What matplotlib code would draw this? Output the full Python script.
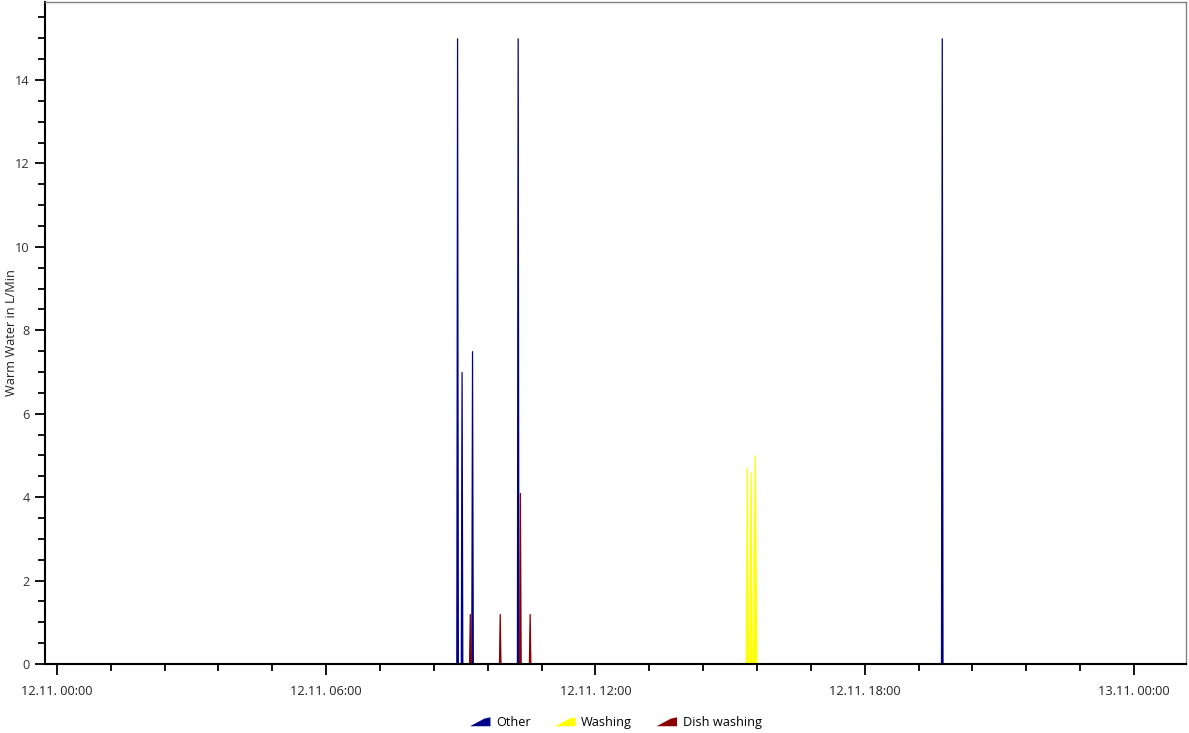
import numpy as np
import pandas as pd
import matplotlib.pyplot as plt
import matplotlib.dates as mdates
from matplotlib.patches import Polygon
from matplotlib.legend_handler import HandlerBase

plt.rcParams['font.family'] = ['Open Sans', 'DejaVu Sans']

day = "2023-11-12"

# peaks: start time, end time, peak value (L/Min)
other_start = ["08:54", "09:00", "09:14", "10:15", "19:42"]
other_end = ["08:56", "09:02", "09:16", "10:17", "19:44"]
other_vals = [15.0, 7.0, 7.5, 15.0, 15.0]

washing_start = ["15:21", "15:26", "15:31"]
washing_end = ["15:24", "15:29", "15:35"]
washing_vals = [4.7, 4.6, 5.0]

dish_start = ["09:11", "09:51", "10:18", "10:31"]
dish_end = ["09:13", "09:53", "10:20", "10:33"]
dish_vals = [1.2, 1.2, 4.1, 1.2]

names = ["Other", "Washing", "Dish washing"]
colors = ["#00008b", "#ffff00", "#8b0000"]


def spikes(starts, ends, vals):
    t = [pd.Timestamp(f"{day} 00:00")]
    y = [0.0]
    for s, e, v in zip(starts, ends, vals):
        s = pd.Timestamp(f"{day} {s}")
        e = pd.Timestamp(f"{day} {e}")
        t += [s, s + (e - s) / 2, e]
        y += [0.0, v, 0.0]
    t.append(pd.Timestamp(f"{day} 23:59"))
    y.append(0.0)
    return mdates.date2num(t), np.array(y)


class HandlerWedge(HandlerBase):
    def create_artists(self, legend, orig_handle, xdescent, ydescent,
                       width, height, fontsize, trans):
        x0, y0 = -xdescent, -ydescent
        w, h = width, height
        p = Polygon([[x0, y0], [x0 + w, y0], [x0 + w, y0 + h],
                     [x0 + w * 0.7, y0 + h * 0.85]],
                    closed=True, facecolor=orig_handle.get_facecolor(),
                    edgecolor='none', transform=trans)
        return [p]


fig = plt.figure(figsize=(11.89, 7.33), dpi=100)
ax = fig.add_axes([0.0378, 0.0941, 0.9597, 0.9032])

data = [spikes(other_start, other_end, other_vals),
        spikes(washing_start, washing_end, washing_vals),
        spikes(dish_start, dish_end, dish_vals)]

handles = []
for (t, y), name, c in zip(data, names, colors):
    ax.fill_between(t, 0, y, color=c, lw=0.9, edgecolor=c)
    handles.append(Polygon([[0, 0]], facecolor=c, label=name))

t0 = mdates.date2num(pd.Timestamp(f"{day} 00:00"))
hour = 1 / 24
ax.set_xlim(t0 - 0.267 * hour, t0 + 25.16 * hour)
ax.set_ylim(0, 15.87)

ax.xaxis.set_major_locator(mdates.HourLocator(byhour=[0, 6, 12, 18]))
ax.xaxis.set_minor_locator(plt.FixedLocator(t0 + np.arange(-1, 26) * 1.2 * hour))
ax.xaxis.set_major_formatter(mdates.DateFormatter("%d.%m. %H:%M"))
ax.set_yticks(np.arange(0, 15, 2))
ax.yaxis.set_minor_locator(plt.MultipleLocator(0.5))

ax.tick_params(axis='x', which='major', length=8, width=1.3, pad=7,
               labelsize=9.2, labelcolor='#222222')
ax.tick_params(axis='x', which='minor', length=5, width=1.3)
ax.tick_params(axis='y', which='major', length=7, width=1.3, pad=4,
               labelsize=9.2, labelcolor='#333333')
ax.tick_params(axis='y', which='minor', length=5, width=1.3)

for s in ['left', 'bottom']:
    ax.spines[s].set_linewidth(1.5)
    ax.spines[s].set_color('black')
for s in ['top', 'right']:
    ax.spines[s].set_linewidth(1.0)
    ax.spines[s].set_color('#808080')

ax.set_ylabel("Warm Water in L/Min", fontsize=9.2, color='#222222')
ax.yaxis.set_label_coords(-0.0235, 0.5)

fig.legend(handles=handles, loc='center', bbox_to_anchor=(0.518, 0.014),
           ncol=3, frameon=False, fontsize=9.2, handlelength=1.6,
           handleheight=0.7, columnspacing=1.9, handletextpad=0.45,
           handler_map={Polygon: HandlerWedge()})

fig.savefig("out.png", dpi=100)
